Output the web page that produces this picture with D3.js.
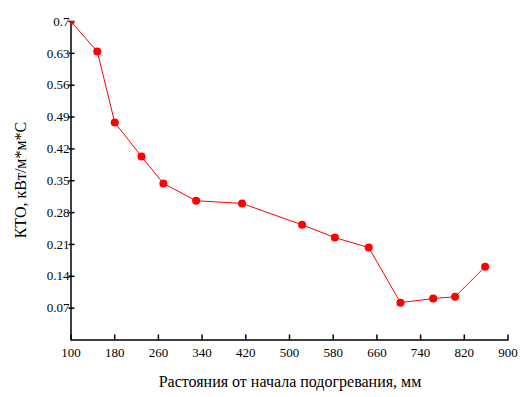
<!DOCTYPE html>
<html>
<head>
<meta charset="utf-8">
<script src="https://cdn.jsdelivr.net/npm/d3@7"></script>
<style>
  body { margin: 0; background: #fff; }
  svg { display: block; font-family: "Liberation Serif", "Times New Roman", serif; }
</style>
</head>
<body>
<div id="chart"></div>
<script>
// distance from start of heating, mm
const distances = [100, 149, 181, 230, 270, 330, 414, 524, 584, 646, 704, 764, 804, 859];
// heat transfer coefficient
const kto = [0.700, 0.633, 0.477, 0.402, 0.343, 0.305, 0.299, 0.252, 0.224, 0.202, 0.081, 0.090, 0.094, 0.160];
const xTicks = [100, 180, 260, 340, 420, 500, 580, 660, 740, 820, 900];
const yTicks = [0.07, 0.14, 0.21, 0.28, 0.35, 0.42, 0.49, 0.56, 0.63, 0.7];

const W = 530, H = 397;
const margin = { top: 21, right: 23, bottom: 58, left: 70.5 };

const svg = d3.select("#chart").append("svg").attr("width", W).attr("height", H);

const x = d3.scaleLinear().domain([100, 900]).range([margin.left, 507.5]);
const y = d3.scaleLinear().domain([0, 0.7]).range([339.5, margin.top]);

svg.append("defs").append("clipPath").attr("id", "plot")
    .append("rect").attr("x", x(100)).attr("y", y(0.7)).attr("width", x(900) - x(100)).attr("height", y(0) - y(0.7));

// axes
const xAxis = svg.append("g").attr("transform", `translate(0,${y(0)})`)
    .call(d3.axisBottom(x).tickValues(xTicks).tickSize(0).tickPadding(8).tickFormat(d3.format("d")))
    .attr("font-family", "Liberation Serif").attr("font-size", 13);
xAxis.select(".domain").attr("stroke", "#000").attr("stroke-width", 1.5);
xAxis.selectAll(".tick").append("line").attr("y1", -5).attr("y2", 1).attr("stroke", "#000").attr("stroke-width", 1.5);
xAxis.selectAll(".tick text").attr("fill", "#000");

const yAxis = svg.append("g").attr("transform", `translate(${x(100)},0)`)
    .call(d3.axisLeft(y).tickValues(yTicks).tickSize(0).tickPadding(1).tickFormat(d => String(+d.toFixed(2))))
    .attr("font-family", "Liberation Serif").attr("font-size", 13);
yAxis.select(".domain").attr("stroke", "#000").attr("stroke-width", 1.5);
yAxis.selectAll(".tick").append("line").attr("x1", -2).attr("x2", 4).attr("stroke", "#000").attr("stroke-width", 1.5);
yAxis.selectAll(".tick text").attr("fill", "#000");

// titles
svg.append("text").attr("x", 290).attr("y", 387).attr("text-anchor", "middle")
    .attr("font-size", 16).text("Растояния от начала подогревания, мм");
svg.append("text").attr("transform", "translate(26,180) rotate(-90)").attr("text-anchor", "middle")
    .attr("font-size", 16).text("КТО, кВт/м*м*С");

// series
const pts = distances.map((d, i) => [d, kto[i]]);
const g = svg.append("g").attr("clip-path", "url(#plot)");
g.append("path").datum(pts)
    .attr("fill", "none").attr("stroke", "#ff0000").attr("stroke-width", 1)
    .attr("d", d3.line().x(d => x(d[0])).y(d => y(d[1])));
g.selectAll("circle").data(pts).enter().append("circle")
    .attr("cx", d => x(d[0])).attr("cy", d => y(d[1])).attr("r", 4).attr("fill", "#ff0000");
</script>
</body>
</html>
